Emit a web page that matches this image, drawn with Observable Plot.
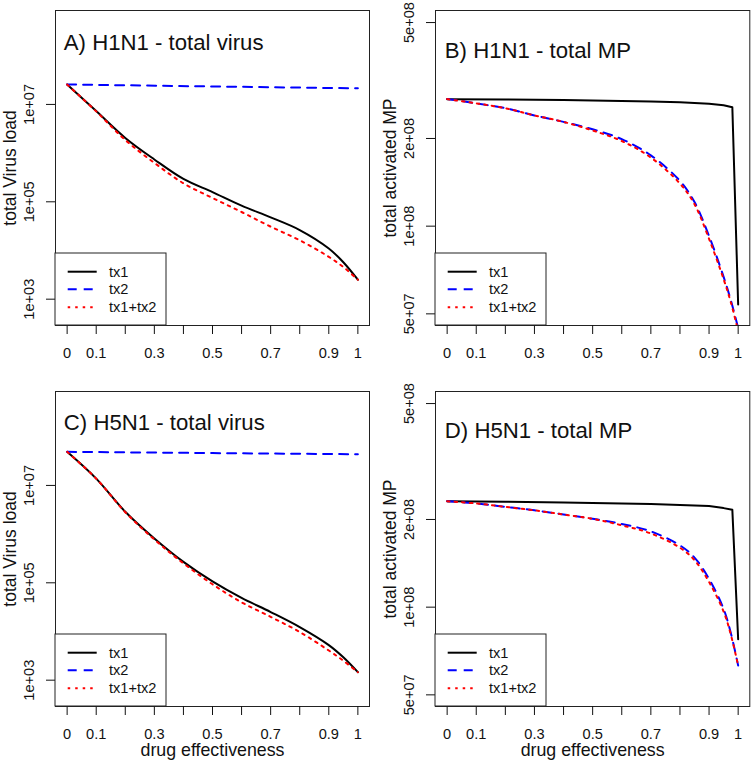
<!DOCTYPE html>
<html><head><meta charset="utf-8">
<script src="https://cdn.jsdelivr.net/npm/d3@7"></script>
<script src="https://cdn.jsdelivr.net/npm/@observablehq/plot@0.6"></script>
<style>
body{margin:0;background:#fff;}
#grid{display:grid;grid-template-columns:376px 376px;grid-template-rows:381px 381px;width:752px;height:762px;}
#grid svg{display:block;}
</style></head><body><div id="grid"></div>
<script>
// ---- data ----
const seriesNames = ["tx1", "tx2", "tx1+tx2"];
const xTicks = [0, 0.1, 0.2, 0.3, 0.4, 0.5, 0.6, 0.7, 0.8, 0.9, 1];
const xTickLabels = ["0", "0.1", "", "0.3", "", "0.5", "", "0.7", "", "0.9", "1"];
const virusTicks = [1e3, 1e5, 1e7];
const virusTickLabels = ["1e+03", "1e+05", "1e+07"];
const mpTicks = [5e7, 1e8, 2e8, 5e8];
const mpTickLabels = ["5e+07", "1e+08", "2e+08", "5e+08"];
const titles = ["A) H1N1 - total virus", "B) H1N1 - total MP", "C) H5N1 - total virus", "D) H5N1 - total MP"];
const yLabels = ["total Virus load", "total activated MP", "total Virus load", "total activated MP"];
const xLabel = "drug effectiveness";

// x grids of the sampled curves
const xVirus = [0, 0.1, 0.2, 0.3, 0.4, 0.5, 0.6, 0.7, 0.8, 0.9, 0.95, 1];
const xVirusTx2 = [0, 0.5, 1];
const xMP = [0, 0.1, 0.2, 0.3, 0.4, 0.5, 0.6, 0.7, 0.8, 0.85, 0.9, 0.95, 0.975, 1];
const xMPTx1 = [0, 0.2, 0.4, 0.6, 0.7, 0.8, 0.9, 0.95, 0.98, 1];

// A) H1N1 total virus
const aTx1 = [2.57e7, 7.30e6, 2.05e6, 7.41e5, 2.95e5, 1.58e5, 8.32e4, 4.79e4, 2.63e4, 1.10e4, 5.75e3, 2.51e3];
const aTx2 = [2.57e7, 2.34e7, 2.14e7];
const aTx12 = [2.57e7, 7.20e6, 1.86e6, 6.31e5, 2.40e5, 1.20e5, 6.17e4, 3.09e4, 1.62e4, 7.41e3, 4.57e3, 2.51e3];
// B) H1N1 total MP
const bTx1 = [2.729e8, 2.723e8, 2.710e8, 2.692e8, 2.679e8, 2.661e8, 2.630e8, 2.600e8, 2.559e8, 5.38e7];
const bTx2 = [2.73e8, 2.64e8, 2.54e8, 2.40e8, 2.28e8, 2.15e8, 1.99e8, 1.75e8, 1.43e8, 1.21e8, 9.25e7, 6.70e7, 5.56e7, 4.47e7];
const bTx12 = [2.73e8, 2.64e8, 2.54e8, 2.40e8, 2.28e8, 2.13e8, 1.96e8, 1.72e8, 1.40e8, 1.19e8, 9.04e7, 6.58e7, 5.47e7, 4.37e7];
// C) H5N1 total virus
const cTx1 = [4.90e7, 1.38e7, 2.88e6, 8.13e5, 2.69e5, 1.07e5, 4.90e4, 2.51e4, 1.23e4, 5.25e3, 2.95e3, 1.46e3];
const cTx2 = [4.90e7, 4.62e7, 4.37e7];
const cTx12 = [4.90e7, 1.38e7, 2.82e6, 7.76e5, 2.51e5, 9.33e4, 3.98e4, 2.0e4, 9.77e3, 4.07e3, 2.51e3, 1.46e3];
// D) H5N1 total MP
const dTx1 = [2.312e8, 2.300e8, 2.288e8, 2.270e8, 2.258e8, 2.244e8, 2.223e8, 2.188e8, 2.158e8, 7.76e7];
const dTx2 = [2.31e8, 2.27e8, 2.21e8, 2.15e8, 2.08e8, 2.01e8, 1.93e8, 1.82e8, 1.63e8, 1.48e8, 1.25e8, 9.86e7, 8.13e7, 6.30e7];
const dTx12 = [2.31e8, 2.27e8, 2.21e8, 2.15e8, 2.08e8, 2.01e8, 1.91e8, 1.79e8, 1.60e8, 1.45e8, 1.22e8, 9.66e7, 8.04e7, 6.30e7];

const virusDomain = [288, 8.5e8];
const mpDomain = [4.56e7, 5.5e8];

// ---- drawing ----
const FONT = "'Liberation Sans', Arial, Helvetica, sans-serif";
const seriesStyle = [
  {stroke: "#000000", dash: null},
  {stroke: "#0000ff", dash: "9,7"},
  {stroke: "#ff0000", dash: "2.5,5"}
];
function zip(xs, ys) { return xs.map((x, i) => ({x, y: ys[i]})); }

const panels = [
  {title: titles[0], ylab: yLabels[0], dom: virusDomain, ticks: virusTicks, tlabels: virusTickLabels,
   data: [zip(xVirus, aTx1), zip(xVirusTx2, aTx2), zip(xVirus, aTx12)], curves: ["catmull-rom","linear","catmull-rom"],
   ml: 55, mr: 7, tdx: 8.3, tdy: 23.3, xlab: false},
  {title: titles[1], ylab: yLabels[1], dom: mpDomain, ticks: mpTicks, tlabels: mpTickLabels,
   data: [zip(xMPTx1, bTx1), zip(xMP, bTx2), zip(xMP, bTx12)], curves: ["linear","catmull-rom","catmull-rom"],
   ml: 59, mr: 2.7, tdx: 9.3, tdy: 31.5, xlab: false},
  {title: titles[2], ylab: yLabels[2], dom: virusDomain, ticks: virusTicks, tlabels: virusTickLabels,
   data: [zip(xVirus, cTx1), zip(xVirusTx2, cTx2), zip(xVirus, cTx12)], curves: ["catmull-rom","linear","catmull-rom"],
   ml: 55, mr: 7, tdx: 8.3, tdy: 22.7, xlab: true},
  {title: titles[3], ylab: yLabels[3], dom: mpDomain, ticks: mpTicks, tlabels: mpTickLabels,
   data: [zip(xMPTx1, dTx1), zip(xMP, dTx2), zip(xMP, dTx12)], curves: ["linear","catmull-rom","catmull-rom"],
   ml: 59, mr: 2.7, tdx: 9.3, tdy: 30.7, xlab: true}
];

const W = 376, H = 381, MT = 10, MB = 56;
const grid = document.getElementById("grid");

panels.forEach(p => {
  const marks = [
    ...p.data.map((d, i) => Plot.line(d, {x: "x", y: "y", stroke: seriesStyle[i].stroke, strokeWidth: 2,
      strokeDasharray: seriesStyle[i].dash, curve: p.curves[i], clip: true})),
    Plot.frame({stroke: "#222", strokeWidth: 1}),
    Plot.axisX({ticks: xTicks, tickSize: 9, tickPadding: 13.5, fontSize: 14.6, color: "#111",
      tickFormat: d => xTickLabels[xTicks.indexOf(d)], label: null}),
    Plot.axisY({ticks: p.ticks, tickSize: 9, tickFormat: () => "", label: null, color: "#111"}),
    Plot.text(p.ticks, {y: d => d, text: (d, i) => p.tlabels[i], frameAnchor: "left", dx: -26, rotate: -90,
      fontSize: 14.6, textAnchor: "middle", lineAnchor: "middle", fill: "#111"}),
    Plot.text([p.ylab], {frameAnchor: "left", dx: -45, rotate: -90, fontSize: 17.5, textAnchor: "middle",
      lineAnchor: "middle", fill: "#111"}),
    Plot.text([p.title], {frameAnchor: "top-left", dx: p.tdx, dy: p.tdy, textAnchor: "start", lineAnchor: "top",
      fontSize: 22.2, fill: "#111"})
  ];
  if (p.xlab) marks.push(Plot.text([xLabel], {frameAnchor: "bottom", dy: 43.5, fontSize: 17.8,
      textAnchor: "middle", lineAnchor: "middle", fill: "#111"}));
  const svg = Plot.plot({
    width: W, height: H, marginLeft: p.ml, marginRight: p.mr, marginTop: MT, marginBottom: MB,
    x: {domain: [-0.04, 1.04], label: null},
    y: {type: "log", domain: p.dom, label: null},
    style: {fontFamily: FONT, background: "#fff", overflow: "visible"},
    marks
  });
  // legend (bottom-left inside the frame)
  const g = d3.select(svg).append("g").attr("transform", `translate(${p.ml},${H - MB})`)
    .attr("text-anchor", "start");
  g.append("rect").attr("x", 0).attr("y", -72).attr("width", 111).attr("height", 72)
    .attr("fill", "#fff").attr("stroke", "#222").attr("stroke-width", 1);
  const rows = [-53.3, -35.7, -17.7];
  seriesNames.forEach((name, i) => {
    g.append("line").attr("x1", 12.7).attr("x2", 41.7).attr("y1", rows[i]).attr("y2", rows[i])
      .attr("stroke", seriesStyle[i].stroke).attr("stroke-width", 2)
      .attr("stroke-dasharray", seriesStyle[i].dash);
    g.append("text").attr("x", 54).attr("y", rows[i]).attr("dy", "0.35em").attr("text-anchor", "start")
      .attr("font-size", 14.6).attr("font-family", FONT).attr("fill", "#111").text(name);
  });
  grid.appendChild(svg);
});
</script></body></html>
